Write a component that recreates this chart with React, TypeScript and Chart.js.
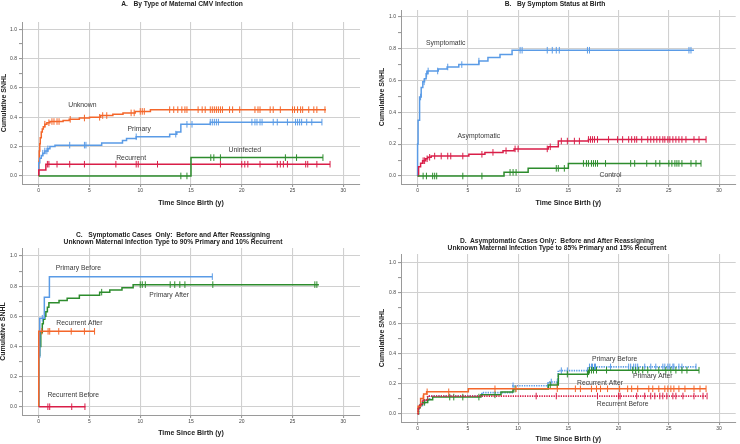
import React, { useEffect, useRef } from "react";
import { Chart, registerables } from "chart.js";

Chart.register(...registerables);

type Step = [number, number];

const FONT = '"Liberation Sans", Arial, Helvetica, sans-serif';
Chart.defaults.font.family = FONT;

const ORANGE = "#f4662a";
const BLUE = "#5a9be6";
const CRIMSON = "#d91e48";
const GREEN = "#2d8c2d";
const GRID = "#d0d0d0";
const AXIS = "#9a9a9a";

// ---------- shared axis ticks ----------
const X_TICKS = [0, 5, 10, 15, 20, 25, 30];
const Y_TICKS = [0, 0.1, 0.2, 0.3, 0.4, 0.5, 0.6, 0.7, 0.8, 0.9, 1.0];
const Y_LABELED = [0, 0.2, 0.4, 0.6, 0.8, 1.0];
const X_MIN = -1.65;
const X_MAX = 31.65;

// ---------- Panel A: by type of maternal CMV infection ----------
const aUnknownSteps: Step[] = [[0, 0], [0.02, 0.1], [0.05, 0.17], [0.1, 0.22], [0.15, 0.26], [0.25, 0.3], [0.35, 0.32], [0.45, 0.335], [0.6, 0.353], [0.8, 0.363], [1.1, 0.371], [2.4, 0.378], [3.0, 0.386], [4.0, 0.395], [5.0, 0.4], [6.1, 0.412], [7.3, 0.42], [8.3, 0.43], [9.5, 0.44], [11.0, 0.452]];
const aUnknownEnd = 28.3;
const aUnknownCensor = [0.6, 1.0, 1.3, 1.5, 1.8, 2.0, 3.1, 4.5, 6.0, 6.3, 6.7, 9.1, 9.4, 10.0, 10.2, 10.4, 12.9, 13.3, 13.7, 14.1, 14.4, 14.6, 15.7, 16.1, 16.4, 16.9, 17.1, 17.3, 17.5, 17.7, 17.9, 18.1, 18.8, 19.1, 19.8, 21.3, 21.6, 21.8, 22.8, 23.1, 23.8, 25.0, 25.2, 25.5, 25.8, 26.0, 26.6, 27.1, 27.4, 28.2];

const aPrimarySteps: Step[] = [[0, 0], [0, 0.09], [0.1, 0.12], [0.25, 0.14], [0.4, 0.155], [0.6, 0.17], [0.9, 0.185], [1.1, 0.2], [1.6, 0.21], [6.2, 0.224], [8.25, 0.241], [8.65, 0.255], [9.6, 0.267], [12.9, 0.285], [13.6, 0.299], [14.0, 0.352], [16.9, 0.367]];
const aPrimaryEnd = 27.9;
const aPrimaryCensor = [0.4, 0.6, 0.8, 0.9, 3.05, 4.5, 4.65, 9.6, 13.5, 14.6, 15.1, 16.9, 17.1, 17.3, 17.5, 17.7, 21.0, 21.3, 21.5, 21.8, 22.0, 23.1, 23.5, 24.5, 25.3, 25.5, 25.7, 25.9, 26.4, 26.9, 27.9];

const aRecurrentSteps: Step[] = [[0, 0], [0, 0.04], [0.7, 0.08]];
const aRecurrentEnd = 28.7;
const aRecurrentCensor = [0.85, 1.0, 1.8, 3.05, 4.5, 7.6, 9.6, 9.8, 11.7, 17.9, 20.0, 20.3, 20.6, 21.8, 23.5, 23.8, 24.1, 24.5, 26.3, 26.5, 27.4, 28.7];

const aUninfectedSteps: Step[] = [[0, 0], [15.0, 0.125]];
const aUninfectedEnd = 28.0;
const aUninfectedCensor = [14.0, 14.6, 16.95, 17.25, 17.9, 24.3, 25.4, 28.0];

// ---------- Panel B: by symptom status at birth ----------
const bSympSteps: Step[] = [[0, 0], [0, 0.2], [0.05, 0.35], [0.2, 0.495], [0.36, 0.555], [0.52, 0.59], [0.69, 0.61], [0.85, 0.64], [1.0, 0.658], [2.06, 0.671], [2.94, 0.683], [4.1, 0.698], [6.1, 0.72], [7.0, 0.742], [8.2, 0.762], [9.4, 0.788]];
const bSympEnd = 27.5;
const bSympCensor = [0.3, 0.65, 0.9, 1.05, 2.0, 3.0, 4.4, 6.1, 10.2, 10.4, 12.9, 13.4, 13.8, 14.1, 16.9, 17.1, 27.0, 27.2];

const bAsympSteps: Step[] = [[0, 0], [0.1, 0.058], [0.3, 0.08], [0.5, 0.096], [0.8, 0.108], [1.0, 0.117], [1.35, 0.125], [5.1, 0.136], [6.7, 0.148], [8.5, 0.158], [9.6, 0.17], [13.0, 0.183], [14.0, 0.219], [17.0, 0.229]];
const bAsympEnd = 28.7;
const bAsympCensor = [0.55, 0.7, 0.95, 1.2, 1.7, 2.35, 3.0, 3.3, 4.5, 6.4, 7.5, 8.8, 9.7, 10.0, 12.9, 13.2, 14.3, 14.9, 15.6, 16.1, 17.0, 17.2, 17.4, 17.6, 17.9, 19.0, 19.9, 20.4, 21.0, 21.3, 21.6, 21.8, 22.3, 22.9, 23.2, 23.5, 23.8, 24.1, 24.4, 24.6, 24.9, 25.1, 25.4, 25.7, 26.0, 26.3, 26.7, 27.5, 28.0, 28.7];

const bControlSteps: Step[] = [[0, 0], [8.6, 0.023], [11.0, 0.048], [15.0, 0.079]];
const bControlEnd = 28.2;
const bControlCensor = [0.55, 0.88, 1.5, 1.7, 1.9, 4.5, 6.4, 9.2, 9.5, 9.8, 13.8, 14.0, 14.6, 16.5, 16.8, 17.0, 17.3, 17.5, 17.7, 17.9, 18.7, 21.2, 21.6, 22.8, 23.7, 24.1, 25.0, 25.3, 25.6, 25.8, 26.0, 26.3, 27.2, 27.7, 28.2];

// ---------- Panel C: symptomatic cases ----------
const cPrimBeforeSteps: Step[] = [[0, 0], [0, 0.33], [0.1, 0.587], [0.55, 0.726], [1.05, 0.863]];
const cPrimBeforeEnd = 17.1;
const cPrimBeforeCensor = [0.35, 17.1];

const cPrimAfterSteps: Step[] = [[0, 0], [0, 0.34], [0.1, 0.4], [0.2, 0.49], [0.35, 0.55], [0.45, 0.58], [0.6, 0.6], [0.7, 0.63], [0.85, 0.66], [1.0, 0.69], [2.0, 0.705], [2.8, 0.72], [4.0, 0.74], [6.0, 0.76], [7.0, 0.775], [8.2, 0.79], [9.3, 0.81]];
const cPrimAfterEnd = 27.6;
const cPrimAfterCensor = [6.2, 10.0, 10.2, 10.5, 12.95, 13.4, 13.9, 14.4, 17.15, 27.2, 27.4];

const cRecAfterSteps: Step[] = [[0, 0], [0, 0.5]];
const cRecAfterEnd = 5.5;
const cRecAfterCensor = [0.3, 0.92, 1.08, 1.97, 3.2, 4.5, 5.5];

const cRecBeforeSteps: Step[] = [[0, 0]];
const cRecBeforeEnd = 4.6;
const cRecBeforeCensor = [0.9, 1.08, 3.25, 4.55];

// ---------- Panel D: asymptomatic cases ----------
const dPrimBeforeSteps: Step[] = [[0, 0], [0.1, 0.04], [0.3, 0.07], [0.7, 0.09], [1.2, 0.117], [6.4, 0.14], [9.5, 0.185], [13.0, 0.21], [14.0, 0.285], [17.0, 0.31]];
const dPrimBeforeEnd = 27.8;
const dPrimBeforeCensor = [0.5, 9.5, 12.96, 13.3, 13.9, 14.3, 14.9, 16.9, 17.1, 17.3, 17.4, 17.6, 17.7, 19.2, 21.0, 21.2, 21.5, 21.7, 21.9, 22.6, 23.2, 23.7, 24.4, 24.6, 24.9, 25.1, 25.4, 25.5, 26.0, 26.3, 27.7];

const dPrimAfterSteps: Step[] = [[0, 0], [0.1, 0.04], [0.25, 0.06], [0.5, 0.075], [1.0, 0.092], [1.5, 0.11], [6.3, 0.125], [8.3, 0.143], [9.5, 0.163], [13.0, 0.19], [14.0, 0.262], [17.0, 0.288]];
const dPrimAfterEnd = 28.0;
const dPrimAfterCensor = [0.7, 1.0, 3.2, 3.6, 4.5, 6.1, 7.7, 9.7, 13.2, 13.9, 14.9, 16.9, 17.1, 17.3, 17.5, 17.8, 18.8, 21.4, 21.7, 22.0, 22.4, 22.9, 24.0, 24.7, 25.2, 25.7, 26.3, 26.8, 28.0];

const dRecAfterSteps: Step[] = [[0, 0], [0.05, 0.05], [0.3, 0.1], [0.6, 0.13], [0.9, 0.145], [5.05, 0.165]];
const dRecAfterEnd = 28.7;
const dRecAfterCensor = [0.55, 0.95, 3.1, 7.7, 9.8, 13.9, 15.7, 16.2, 17.3, 17.8, 18.2, 18.9, 20.1, 20.9, 21.3, 21.9, 23.0, 23.4, 24.0, 24.6, 24.9, 25.2, 25.5, 26.0, 26.6, 27.5, 28.1, 28.7];

const dRecBeforeSteps: Step[] = [[0, 0], [0.05, 0.03], [0.2, 0.06], [0.5, 0.09], [1.0, 0.117]];
const dRecBeforeEnd = 28.8;
const dRecBeforeCensor = [11.8, 13.8, 17.9, 20.0, 20.15, 21.8, 22.6, 23.2, 23.6, 24.1, 24.4, 24.8, 25.4, 25.7, 26.4, 27.5, 28.4, 28.8];

// ---------- helpers ----------
interface SeriesSpec {
  steps: Step[];
  end: number;
  censor: number[];
  color: string;
  dotted?: boolean;
}
interface LabelSpec {
  text: string;
  x: number;
  y: number;
}
interface PanelSpec {
  left: number;
  top: number;
  w: number;
  h: number;
  padTop: number;
  padRight: number;
  yAxisW: number;
  xAxisH: number;
  yMin: number;
  yMax: number;
  yTitlePad: number;
  xTitlePad: number;
  series: SeriesSpec[];
  labels: LabelSpec[];
}

function stepAt(steps: Step[], t: number): number {
  let v = steps[0][1];
  for (const [st, sv] of steps) if (st <= t) v = sv;
  return v;
}

function isLabeled(v: number): boolean {
  return Y_LABELED.some((l) => Math.abs(l - v) < 1e-6);
}

function makeLabelPlugin(labels: LabelSpec[]) {
  return {
    id: "curveLabels",
    afterDatasetsDraw(chart: any) {
      const { ctx, scales } = chart;
      ctx.save();
      ctx.font = `6.8px ${FONT}`;
      ctx.fillStyle = "#3a3a3a";
      ctx.textAlign = "center";
      ctx.textBaseline = "middle";
      for (const l of labels) {
        ctx.fillText(l.text, scales.x.getPixelForValue(l.x), scales.y.getPixelForValue(l.y));
      }
      ctx.restore();
    },
  };
}

const panels: PanelSpec[] = [
  {
    left: 0, top: 0, w: 370, h: 212, padTop: 22, padRight: 10, yAxisW: 22, xAxisH: 28,
    yMin: -0.055, yMax: 1.05, yTitlePad: 1, xTitlePad: 5.5,
    series: [
      { steps: aUninfectedSteps, end: aUninfectedEnd, censor: aUninfectedCensor, color: GREEN },
      { steps: aRecurrentSteps, end: aRecurrentEnd, censor: aRecurrentCensor, color: CRIMSON },
      { steps: aPrimarySteps, end: aPrimaryEnd, censor: aPrimaryCensor, color: BLUE },
      { steps: aUnknownSteps, end: aUnknownEnd, censor: aUnknownCensor, color: ORANGE },
    ],
    labels: [
      { text: "Unknown", x: 4.3, y: 0.48 },
      { text: "Primary", x: 9.9, y: 0.32 },
      { text: "Recurrent", x: 9.1, y: 0.123 },
      { text: "Uninfected", x: 20.3, y: 0.177 },
    ],
  },
  {
    left: 370, top: 0, w: 370, h: 212, padTop: 10, padRight: 0, yAxisW: 31, xAxisH: 28,
    yMin: -0.05, yMax: 1.04, yTitlePad: 9, xTitlePad: 5.5,
    series: [
      { steps: bControlSteps, end: bControlEnd, censor: bControlCensor, color: GREEN },
      { steps: bAsympSteps, end: bAsympEnd, censor: bAsympCensor, color: CRIMSON },
      { steps: bSympSteps, end: bSympEnd, censor: bSympCensor, color: BLUE },
    ],
    labels: [
      { text: "Symptomatic", x: 2.8, y: 0.83 },
      { text: "Asymptomatic", x: 6.1, y: 0.25 },
      { text: "Control", x: 19.2, y: 0.006 },
    ],
  },
  {
    left: 0, top: 212, w: 370, h: 232, padTop: 36, padRight: 10, yAxisW: 22, xAxisH: 29,
    yMin: -0.055, yMax: 1.053, yTitlePad: 0, xTitlePad: 7.5,
    series: [
      { steps: cRecBeforeSteps, end: cRecBeforeEnd, censor: cRecBeforeCensor, color: CRIMSON },
      { steps: cRecAfterSteps, end: cRecAfterEnd, censor: cRecAfterCensor, color: ORANGE },
      { steps: cPrimBeforeSteps, end: cPrimBeforeEnd, censor: cPrimBeforeCensor, color: BLUE },
      { steps: cPrimAfterSteps, end: cPrimAfterEnd, censor: cPrimAfterCensor, color: GREEN },
    ],
    labels: [
      { text: "Primary Before", x: 3.9, y: 0.92 },
      { text: "Primary After", x: 12.85, y: 0.74 },
      { text: "Recurrent After", x: 4.0, y: 0.555 },
      { text: "Recurrent Before", x: 3.4, y: 0.078 },
    ],
  },
  {
    left: 370, top: 212, w: 370, h: 232, padTop: 42, padRight: 0, yAxisW: 31, xAxisH: 22,
    yMin: -0.055, yMax: 1.058, yTitlePad: 9, xTitlePad: 1.5,
    series: [
      { steps: dRecBeforeSteps, end: dRecBeforeEnd, censor: dRecBeforeCensor, color: CRIMSON, dotted: true },
      { steps: dRecAfterSteps, end: dRecAfterEnd, censor: dRecAfterCensor, color: ORANGE },
      { steps: dPrimAfterSteps, end: dPrimAfterEnd, censor: dPrimAfterCensor, color: GREEN },
      { steps: dPrimBeforeSteps, end: dPrimBeforeEnd, censor: dPrimBeforeCensor, color: BLUE, dotted: true },
    ],
    labels: [
      { text: "Primary Before", x: 19.6, y: 0.36 },
      { text: "Primary After", x: 23.4, y: 0.25 },
      { text: "Recurrent After", x: 18.15, y: 0.204 },
      { text: "Recurrent Before", x: 20.4, y: 0.064 },
    ],
  },
];

function Panel({ spec }: { spec: PanelSpec }) {
  const ref = useRef<HTMLCanvasElement>(null);
  useEffect(() => {
    if (!ref.current) return;
    const datasets: any[] = [];
    spec.series.forEach((s) => {
      const last = s.steps[s.steps.length - 1][1];
      datasets.push({
        type: "line",
        data: [...s.steps.map(([x, y]) => ({ x, y })), { x: s.end, y: last }],
        borderColor: s.color,
        borderWidth: s.dotted ? 1.7 : 1.5,
        borderDash: s.dotted ? [1.3, 1.1] : [],
        stepped: true,
        pointRadius: 0,
        fill: false,
      });
      datasets.push({
        type: "scatter",
        data: s.censor.map((t) => ({ x: t, y: stepAt(s.steps, t) })),
        pointStyle: "line",
        pointRotation: 90,
        pointRadius: 3.3,
        pointHoverRadius: 3.3,
        pointBorderWidth: 1,
        pointBorderColor: s.color,
        pointBackgroundColor: s.color,
        borderColor: s.color,
        showLine: false,
      });
    });

    const chart = new Chart(ref.current, {
      type: "line",
      data: { datasets },
      options: {
        animation: false,
        responsive: false,
        events: [],
        layout: { padding: { top: spec.padTop, right: spec.padRight, left: 0, bottom: 0 } },
        plugins: { legend: { display: false }, tooltip: { enabled: false } },
        scales: {
          x: {
            type: "linear",
            min: X_MIN,
            max: X_MAX,
            afterBuildTicks: (s: any) => {
              s.ticks = X_TICKS.map((v) => ({ value: v }));
            },
            afterFit: (s: any) => {
              s.height = spec.xAxisH;
            },
            ticks: {
              autoSkip: false,
              maxRotation: 0,
              font: { size: 5, family: FONT },
              color: "#444",
              padding: 1,
              callback: (v: any) => String(v),
            },
            grid: { color: GRID, lineWidth: 1.1, tickLength: 3, tickColor: AXIS },
            border: { display: true, color: AXIS, width: 1 },
            title: {
              display: true,
              text: "Time Since Birth (y)",
              color: "#222",
              font: { size: 7, weight: "bold", family: FONT, lineHeight: 1 },
              padding: { top: 0, bottom: spec.xTitlePad },
            },
          },
          y: {
            type: "linear",
            min: spec.yMin,
            max: spec.yMax,
            afterBuildTicks: (s: any) => {
              s.ticks = Y_TICKS.map((v) => ({ value: v }));
            },
            afterFit: (s: any) => {
              s.width = spec.yAxisW;
            },
            ticks: {
              autoSkip: false,
              font: { size: 5, family: FONT },
              color: "#444",
              padding: 2,
              callback: (v: any) => (isLabeled(Number(v)) ? Number(v).toFixed(1) : ""),
            },
            grid: {
              color: (c: any) => (c.tick && isLabeled(c.tick.value) ? GRID : "rgba(0,0,0,0)"),
              lineWidth: 1.1,
              tickLength: 3,
              tickColor: AXIS,
            },
            border: { display: true, color: AXIS, width: 1 },
            title: {
              display: true,
              text: "Cumulative SNHL",
              color: "#222",
              font: { size: 7, weight: "bold", family: FONT, lineHeight: 1 },
              padding: { top: spec.yTitlePad, bottom: 0 },
            },
          },
        },
      } as any,
      plugins: [makeLabelPlugin(spec.labels)],
    });
    return () => chart.destroy();
  }, [spec]);

  return (
    <canvas
      ref={ref}
      width={spec.w}
      height={spec.h}
      style={{ position: "absolute", left: spec.left, top: spec.top, width: spec.w, height: spec.h }}
    />
  );
}

const titleStyle: React.CSSProperties = {
  position: "absolute",
  fontFamily: FONT,
  fontWeight: "bold",
  fontSize: "6.7px",
  color: "#222",
  textAlign: "center",
  whiteSpace: "pre",
};

export default function App() {
  return (
    <div style={{ position: "absolute", left: 0, top: 0, width: 740, height: 444, background: "#fff", overflow: "hidden" }}>
      {panels.map((p, i) => (
        <Panel key={i} spec={p} />
      ))}
      <div style={{ ...titleStyle, left: 0, top: 0, width: 364, lineHeight: "7px" }}>
        {"A.   By Type of Maternal CMV Infection"}
      </div>
      <div style={{ ...titleStyle, left: 370, top: 0, width: 370, lineHeight: "7px" }}>
        {"B.   By Symptom Status at Birth"}
      </div>
      <div style={{ ...titleStyle, left: 0, top: 230.8, width: 346, lineHeight: "7px" }}>
        {"C.   Symptomatic Cases  Only:  Before and After Reassigning\nUnknown Maternal Infection Type to 90% Primary and 10% Recurrent"}
      </div>
      <div style={{ ...titleStyle, left: 370, top: 238, width: 374, lineHeight: "6.6px" }}>
        {"D.  Asymptomatic Cases Only:  Before and After Reassigning\nUnknown Maternal Infection Type to 85% Primary and 15% Recurrent"}
      </div>
    </div>
  );
}
